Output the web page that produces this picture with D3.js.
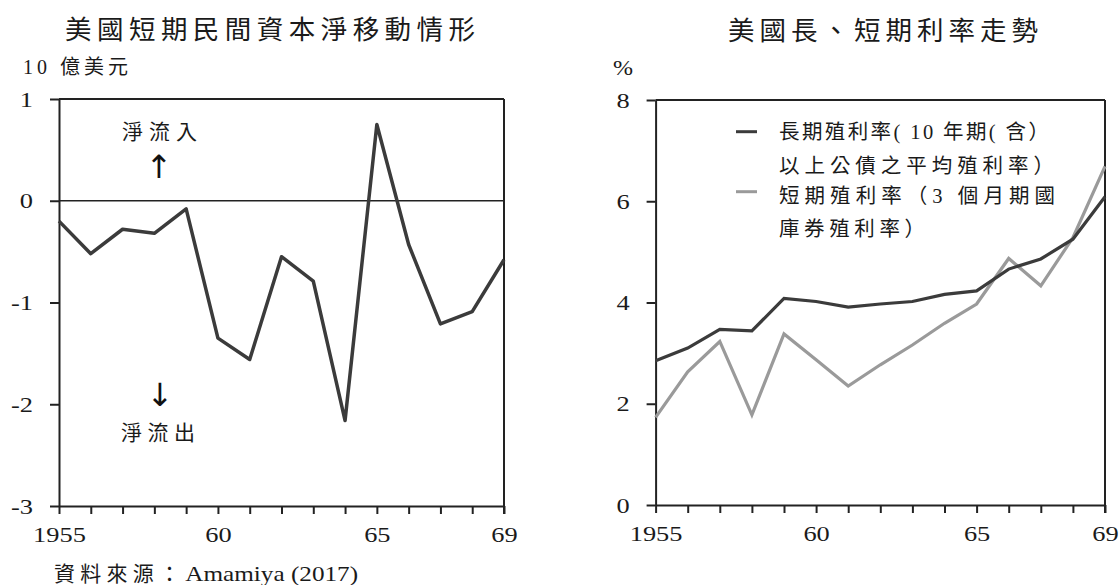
<!DOCTYPE html>
<html>
<head>
<meta charset="utf-8">
<script src="https://cdn.jsdelivr.net/npm/d3@7"></script>
<style>
  body { margin: 0; background: #fff; }
  text { font-family: "Liberation Serif", "Noto Sans CJK TC", serif; fill: #1a1a1a; }
</style>
</head>
<body>
<div id="chart"></div>
<script>
var width = 1119;
var height = 585;

// data
var years = [1955, 1956, 1957, 1958, 1959, 1960, 1961, 1962, 1963, 1964, 1965, 1966, 1967, 1968, 1969];
var netFlow = [-0.2, -0.52, -0.28, -0.32, -0.08, -1.35, -1.56, -0.55, -0.79, -2.16, 0.75, -0.43, -1.21, -1.09, -0.58];
var longRate = [2.85, 3.10, 3.47, 3.44, 4.08, 4.02, 3.91, 3.97, 4.02, 4.16, 4.23, 4.66, 4.86, 5.25, 6.09];
var shortRate = [1.73, 2.63, 3.23, 1.78, 3.38, 2.87, 2.35, 2.77, 3.16, 3.59, 3.97, 4.87, 4.33, 5.28, 6.69];
var yearLabels = {1955: '1955', 1960: '60', 1965: '65', 1969: '69'};
var flowTicks = [1, 0, -1, -2, -3];
var rateTicks = [0, 2, 4, 6, 8];
var legendLines = [
    '長期殖利率( 10 年期( 含）',
    '以上公債之平均殖利率）',
    '短期殖利率（3 個月期國',
    '庫券殖利率）'
];

var svg = d3.select('#chart')
    .append('svg')
    .attr('width', width)
    .attr('height', height);

var axisColor = '#222';

function drawPanel(opts) {
    var x = d3.scaleLinear().domain([1955, 1969]).range([opts.left, opts.right]);
    var y = d3.scaleLinear().domain(opts.domain).range([opts.bottom, opts.top]);

    var g = svg.append('g');

    // x axis
    var xAxis = d3.axisBottom(x)
        .tickValues(years)
        .tickSize(8)
        .tickSizeOuter(0)
        .tickPadding(12)
        .tickFormat(function(d) { return yearLabels[d] || ''; });
    var gx = g.append('g')
        .attr('transform', 'translate(0,' + opts.bottom + ')')
        .call(xAxis);

    // y axis
    var yAxis = d3.axisLeft(y)
        .tickValues(opts.ticks)
        .tickSize(9)
        .tickSizeOuter(0)
        .tickPadding(17)
        .tickFormat(function(d) { return String(d); });
    var gy = g.append('g')
        .attr('transform', 'translate(' + opts.left + ',0)')
        .call(yAxis);

    [gx, gy].forEach(function(a) {
        a.selectAll('path.domain').attr('stroke', axisColor).attr('stroke-width', 2);
        a.selectAll('line').attr('stroke', axisColor).attr('stroke-width', 2);
        a.selectAll('text')
            .attr('class', 'num')
            .style('font-size', '22px')
            .style('font-family', '"Liberation Serif", serif')
            .attr('fill', '#1a1a1a');
    });
    gx.selectAll('text').attr('dy', '0.72em');

    // box: top and right
    g.append('line')
        .attr('x1', opts.left).attr('x2', opts.right)
        .attr('y1', opts.top).attr('y2', opts.top)
        .attr('stroke', axisColor).attr('stroke-width', 2);
    g.append('line')
        .attr('x1', opts.right).attr('x2', opts.right)
        .attr('y1', opts.top).attr('y2', opts.bottom + 8)
        .attr('stroke', axisColor).attr('stroke-width', 2);

    return {x: x, y: y, g: g};
}

// ---- left panel
var left = drawPanel({left: 59, right: 504, top: 99, bottom: 506, domain: [-3, 1], ticks: flowTicks});

left.g.append('line')
    .attr('x1', 59).attr('x2', 504)
    .attr('y1', left.y(0)).attr('y2', left.y(0))
    .attr('stroke', axisColor).attr('stroke-width', 1.5);

var flowLine = d3.line()
    .x(function(d, i) { return left.x(years[i]); })
    .y(function(d) { return left.y(d); });

left.g.append('path')
    .datum(netFlow)
    .attr('d', flowLine)
    .attr('fill', 'none')
    .attr('stroke', '#3b3b3b')
    .attr('stroke-width', 3.5)
    .attr('stroke-linejoin', 'round');

// ---- right panel
var right = drawPanel({left: 655.6, right: 1105, top: 100, bottom: 505, domain: [0, 8], ticks: rateTicks});

var rateLine = d3.line()
    .x(function(d, i) { return right.x(years[i]); })
    .y(function(d) { return right.y(d); });

right.g.append('path')
    .datum(shortRate)
    .attr('d', rateLine)
    .attr('fill', 'none')
    .attr('stroke', '#9a9a9a')
    .attr('stroke-width', 3.2);

right.g.append('path')
    .datum(longRate)
    .attr('d', rateLine)
    .attr('fill', 'none')
    .attr('stroke', '#3b3b3b')
    .attr('stroke-width', 3.2);

// legend
var legend = svg.append('g');
legend.append('line').attr('x1', 736).attr('x2', 757).attr('y1', 131.7).attr('y2', 131.7)
    .attr('stroke', '#3b3b3b').attr('stroke-width', 3);
legend.append('line').attr('x1', 736).attr('x2', 757).attr('y1', 191.7).attr('y2', 191.7)
    .attr('stroke', '#9a9a9a').attr('stroke-width', 3);

var legendWidths = [270, 275, 276, 146];
var legendBase = [139, 172.5, 202.5, 235.5];
legend.selectAll('text.leg')
    .data(legendLines)
    .enter()
    .append('text')
    .attr('class', 'leg')
    .attr('x', 779)
    .attr('y', function(d, i) { return legendBase[i]; })
    .attr('textLength', function(d, i) { return legendWidths[i]; })
    .attr('lengthAdjust', 'spacing')
    .style('font-size', '20.5px')
    .text(function(d) { return d; });

// titles and labels
svg.append('text')
    .attr('x', 65).attr('y', 39)
    .attr('textLength', 410).attr('lengthAdjust', 'spacing')
    .style('font-size', '26.5px')
    .text('美國短期民間資本淨移動情形');

svg.append('text')
    .attr('x', 728).attr('y', 40)
    .attr('textLength', 310).attr('lengthAdjust', 'spacing')
    .style('font-size', '26.5px')
    .text('美國長、短期利率走勢');

svg.append('text')
    .attr('x', 23).attr('y', 74)
    .attr('textLength', 105).attr('lengthAdjust', 'spacing')
    .style('font-size', '20px')
    .text('10 億美元');

svg.append('text')
    .attr('x', 613).attr('y', 75)
    .attr('class', 'num')
    .style('font-size', '20px')
    .text('%');

// inflow / outflow notes
svg.append('text')
    .attr('x', 122).attr('y', 139)
    .attr('textLength', 75).attr('lengthAdjust', 'spacing')
    .style('font-size', '21px')
    .text('淨流入');
svg.append('text')
    .attr('x', 159).attr('y', 178)
    .attr('text-anchor', 'middle')
    .attr('fill', '#111')
    .style('fill', '#111')
    .style('font-size', '32px')
    .style('font-family', '"DejaVu Sans", sans-serif')
    .text('↑');
svg.append('text')
    .attr('x', 160).attr('y', 406)
    .attr('text-anchor', 'middle')
    .style('fill', '#111')
    .style('font-size', '32px')
    .style('font-family', '"DejaVu Sans", sans-serif')
    .text('↓');
svg.append('text')
    .attr('x', 121).attr('y', 440)
    .attr('textLength', 74).attr('lengthAdjust', 'spacing')
    .style('font-size', '21px')
    .text('淨流出');

// source
var src = svg.append('text')
    .attr('x', 54).attr('y', 581)
    .style('font-size', '21px');
src.append('tspan').attr('textLength', 126).attr('lengthAdjust', 'spacing').text('資料來源：');
src.append('tspan').attr('class', 'num').text('Amamiya (2017)');

// widen the serif numbers like in the picture
svg.selectAll('.num').each(function() {
    var len = this.getComputedTextLength();
    d3.select(this)
        .attr('textLength', len * 1.2)
        .attr('lengthAdjust', 'spacingAndGlyphs');
});
</script>
</body>
</html>
